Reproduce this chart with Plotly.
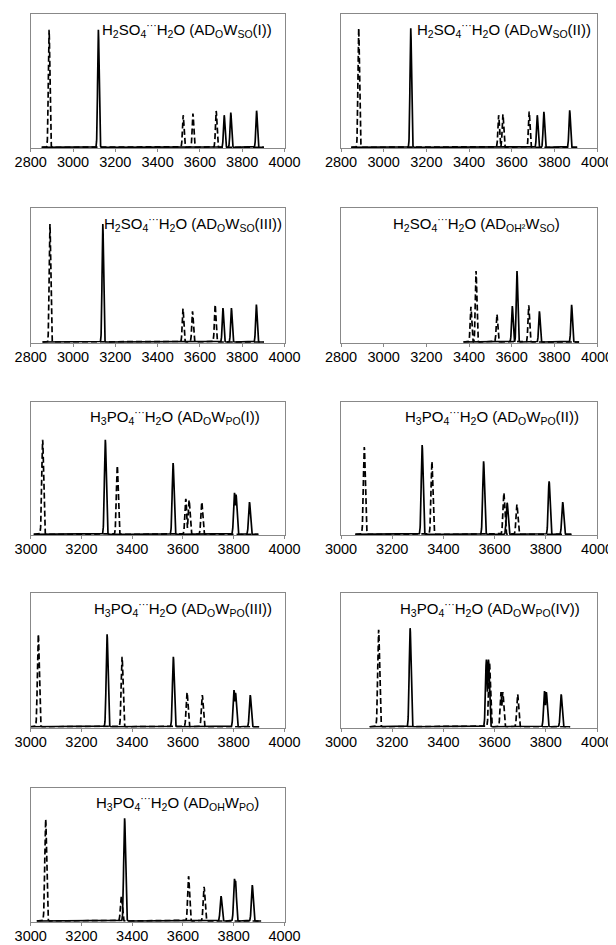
import numpy as np
import plotly.graph_objects as go

# page is 616x945; the browser body has an 8px margin, so the figure is 8px smaller
PAGE_OFF = 8
W, H = 616 - PAGE_OFF, 945 - PAGE_OFF

# ---------------- data ----------------
titles = [
    "H<sub>2</sub>SO<sub>4</sub><sup>···</sup>H<sub>2</sub>O (AD<sub>O</sub>W<sub>SO</sub>(I))",
    "H<sub>2</sub>SO<sub>4</sub><sup>···</sup>H<sub>2</sub>O (AD<sub>O</sub>W<sub>SO</sub>(II))",
    "H<sub>2</sub>SO<sub>4</sub><sup>···</sup>H<sub>2</sub>O (AD<sub>O</sub>W<sub>SO</sub>(III))",
    "H<sub>2</sub>SO<sub>4</sub><sup>···</sup>H<sub>2</sub>O (AD<sub>OH²</sub>W<sub>SO</sub>)",
    "H<sub>3</sub>PO<sub>4</sub><sup>···</sup>H<sub>2</sub>O (AD<sub>O</sub>W<sub>PO</sub>(I))",
    "H<sub>3</sub>PO<sub>4</sub><sup>···</sup>H<sub>2</sub>O (AD<sub>O</sub>W<sub>PO</sub>(II))",
    "H<sub>3</sub>PO<sub>4</sub><sup>···</sup>H<sub>2</sub>O (AD<sub>O</sub>W<sub>PO</sub>(III))",
    "H<sub>3</sub>PO<sub>4</sub><sup>···</sup>H<sub>2</sub>O (AD<sub>O</sub>W<sub>PO</sub>(IV))",
    "H<sub>3</sub>PO<sub>4</sub><sup>···</sup>H<sub>2</sub>O (AD<sub>OH</sub>W<sub>PO</sub>)",
]

ticks_so = [2800, 3000, 3200, 3400, 3600, 3800, 4000]
ticks_po = [3000, 3200, 3400, 3600, 3800, 4000]

# panel 1
p1_solid_pos = [3120, 3715, 3746, 3868]
p1_solid_int = [0.881, 0.241, 0.261, 0.275]
p1_dash_pos = [2887, 3521, 3567, 3677]
p1_dash_int = [0.881, 0.241, 0.253, 0.273]
# panel 2
p2_solid_pos = [3127, 3720, 3751, 3872]
p2_solid_int = [0.893, 0.241, 0.266, 0.278]
p2_dash_pos = [2883, 3539, 3559, 3682]
p2_dash_int = [0.893, 0.241, 0.248, 0.268]
# panel 3
p3_solid_pos = [3141, 3709, 3749, 3867]
p3_solid_int = [0.883, 0.254, 0.254, 0.28]
p3_dash_pos = [2891, 3520, 3565, 3672]
p3_dash_int = [0.883, 0.25, 0.23, 0.28]
# panel 4
p4_solid_pos = [3603, 3625, 3730, 3881]
p4_solid_int = [0.269, 0.531, 0.229, 0.279]
p4_dash_pos = [3409, 3433, 3531, 3680]
p4_dash_int = [0.264, 0.531, 0.207, 0.274]
# panel 5
p5_solid_pos = [3294, 3561, 3803, 3809, 3862]
p5_solid_int = [0.713, 0.538, 0.313, 0.30, 0.243]
p5_dash_pos = [3047, 3341, 3611, 3624, 3674]
p5_dash_int = [0.713, 0.518, 0.268, 0.258, 0.243]
# panel 6
p6_solid_pos = [3317, 3557, 3649, 3813, 3866]
p6_solid_int = [0.673, 0.55, 0.238, 0.40, 0.243]
p6_dash_pos = [3091, 3355, 3636, 3687]
p6_dash_int = [0.658, 0.55, 0.313, 0.225]
# panel 7
p7_solid_pos = [3301, 3562, 3801, 3807, 3865]
p7_solid_int = [0.693, 0.525, 0.275, 0.255, 0.238]
p7_dash_pos = [3030, 3360, 3616, 3676]
p7_dash_int = [0.693, 0.525, 0.258, 0.238]
# panel 8
p8_solid_pos = [3270, 3568, 3576, 3795, 3802, 3860]
p8_solid_int = [0.739, 0.504, 0.504, 0.268, 0.26, 0.243]
p8_dash_pos = [3147, 3580, 3625, 3632, 3690]
p8_dash_int = [0.727, 0.48, 0.26, 0.26, 0.243]
# panel 9
p9_solid_pos = [3370, 3750, 3803, 3807, 3873]
p9_solid_int = [0.771, 0.187, 0.316, 0.30, 0.269]
p9_dash_pos = [3059, 3357, 3622, 3683]
p9_dash_int = [0.764, 0.187, 0.336, 0.256]

solid_pos = [p1_solid_pos, p2_solid_pos, p3_solid_pos, p4_solid_pos, p5_solid_pos,
             p6_solid_pos, p7_solid_pos, p8_solid_pos, p9_solid_pos]
solid_int = [p1_solid_int, p2_solid_int, p3_solid_int, p4_solid_int, p5_solid_int,
             p6_solid_int, p7_solid_int, p8_solid_int, p9_solid_int]
dash_pos = [p1_dash_pos, p2_dash_pos, p3_dash_pos, p4_dash_pos, p5_dash_pos,
            p6_dash_pos, p7_dash_pos, p8_dash_pos, p9_dash_pos]
dash_int = [p1_dash_int, p2_dash_int, p3_dash_int, p4_dash_int, p5_dash_int,
            p6_dash_int, p7_dash_int, p8_dash_int, p9_dash_int]

# ---------------- layout (page-pixel boxes of each panel) ----------------
col_x = [(30.7, 284.5), (341.0, 597.0)]
row_y = [(14.0, 148.0), (208.3, 342.7), (401.7, 535.0), (593.3, 727.5), (787.7, 921.7)]
title_pos = [  # (x px, anchor)
    (274, "right"), (593, "right"), (284, "right"), (476, "center"),
    (174.7, "center"), (581, "right"), (274, "right"), (582, "right"), (177.5, "center"),
]


def px_x(px):
    return (px - PAGE_OFF) / W


def px_y(py):
    return 1 - (py - PAGE_OFF) / H


SIGMA = 3.5  # line-shape broadening (cm^-1)


def spectrum(pos, inten, lo, hi):
    x = np.arange(lo, hi + 0.25, 0.5)
    y = np.zeros_like(x)
    for p, h in zip(pos, inten):
        y = np.maximum(y, h * np.exp(-0.5 * ((x - p) / SIGMA) ** 2))
    return x, y


fig = go.Figure()
annotations = []
FONT = "Arial, 'Liberation Sans', sans-serif"

for i in range(9):
    r, c = divmod(i, 2)
    x0, x1 = col_x[c]
    yt, yb = row_y[r]
    n = "" if i == 0 else str(i + 1)
    xa, ya = "x" + n, "y" + n
    allpos = solid_pos[i] + dash_pos[i]
    lo, hi = min(allpos) - 35, max(allpos) + 35
    xs, ys = spectrum(solid_pos[i], solid_int[i], lo, hi)
    xd, yd = spectrum(dash_pos[i], dash_int[i], lo, hi)
    fig.add_trace(go.Scatter(x=xd, y=yd, mode="lines", xaxis=xa, yaxis=ya,
                             line=dict(color="black", width=1.7, dash="6px,3px"),
                             showlegend=False, hoverinfo="skip"))
    fig.add_trace(go.Scatter(x=xs, y=ys, mode="lines", xaxis=xa, yaxis=ya,
                             line=dict(color="black", width=1.7),
                             showlegend=False, hoverinfo="skip"))
    ticks = ticks_so if r < 2 else ticks_po
    xkey = "xaxis" + n
    ykey = "yaxis" + n
    fig.layout[xkey] = dict(
        domain=[px_x(x0), px_x(x1)], anchor=ya, range=[ticks[0], ticks[-1]],
        tickvals=ticks, ticktext=[str(t) for t in ticks],
        ticks="outside", ticklen=3, tickcolor="#888888", tickwidth=1,
        ticklabelstandoff=-2,
        showline=True, linecolor="#888888", linewidth=1, mirror=True,
        showgrid=False, zeroline=False, automargin=False,
        tickfont=dict(family=FONT, size=14.5, color="black"),
    )
    fig.layout[ykey] = dict(
        domain=[px_y(yb), px_y(yt)], anchor=xa, range=[-0.005, 1.0],
        showticklabels=False, ticks="", showline=True, linecolor="#888888",
        linewidth=1, mirror=True, showgrid=False, zeroline=False, automargin=False,
    )
    tx, anc = title_pos[i]
    annotations.append(dict(
        text=titles[i], xref="paper", yref="paper", x=px_x(tx), y=px_y(yt + 15),
        xanchor=anc, yanchor="middle", showarrow=False,
        font=dict(family=FONT, size=15, color="black"),
    ))

fig.update_layout(
    width=W, height=H, margin=dict(l=0, r=0, t=0, b=0, autoexpand=False),
    paper_bgcolor="white", plot_bgcolor="white",
    annotations=annotations,
)

fig.write_html("out.html")
